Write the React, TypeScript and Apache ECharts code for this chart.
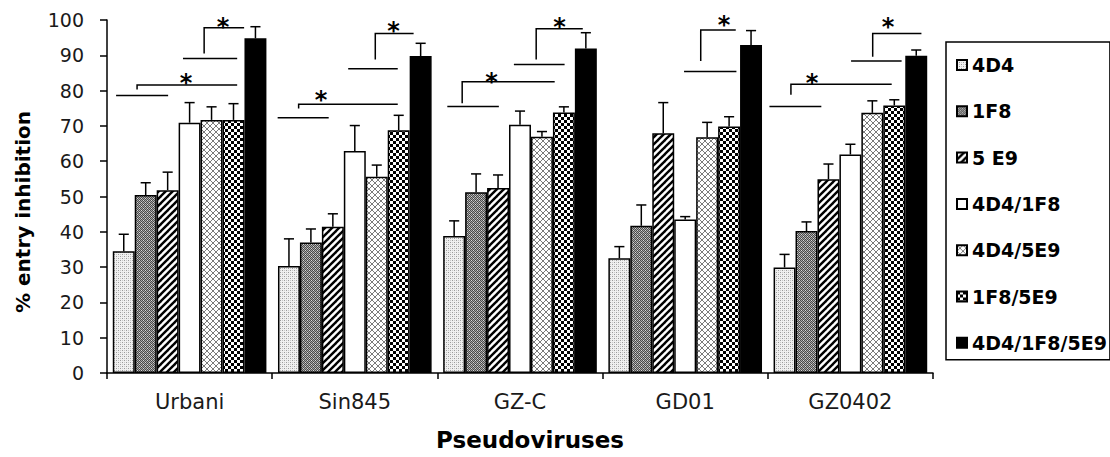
import React, { useEffect, useRef } from "react";
import * as echarts from "echarts";

// ---------- data ----------
const categories = ["Urbani", "Sin845", "GZ-C", "GD01", "GZ0402"];
const seriesNames = ["4D4", "1F8", "5 E9", "4D4/1F8", "4D4/5E9", "1F8/5E9", "4D4/1F8/5E9"];

const val4D4 = [34.5, 30.3, 38.8, 32.5, 29.9];
const val1F8 = [50.4, 37.0, 51.2, 41.7, 40.2];
const val5E9 = [51.8, 41.4, 52.4, 67.9, 54.9];
const val4D4_1F8 = [70.9, 62.9, 70.3, 43.5, 61.9];
const val4D4_5E9 = [71.7, 55.6, 66.9, 66.8, 73.7];
const val1F8_5E9 = [71.7, 68.8, 73.8, 69.8, 75.8];
const valTriple = [94.8, 89.8, 91.9, 92.9, 89.9];

const err4D4 = [4.8, 7.7, 4.3, 3.3, 3.7];
const err1F8 = [3.5, 3.8, 5.2, 5.9, 2.6];
const err5E9 = [5.1, 3.7, 3.7, 8.7, 4.3];
const err4D4_1F8 = [5.7, 7.2, 3.9, 0.8, 2.9];
const err4D4_5E9 = [3.7, 3.3, 1.5, 4.2, 3.4];
const err1F8_5E9 = [4.6, 4.2, 1.6, 2.8, 1.6];
const errTriple = [3.3, 3.6, 4.5, 4.1, 1.6];

const allValues = [val4D4, val1F8, val5E9, val4D4_1F8, val4D4_5E9, val1F8_5E9, valTriple];
const allErrors = [err4D4, err1F8, err5E9, err4D4_1F8, err4D4_5E9, err1F8_5E9, errTriple];

// significance annotations: [category, fromOffset, toOffset, value]
const sigLines = [
  [0, -0.445, -0.13, 78.6],
  [0, -0.04, 0.288, 89.1],
  [1, -0.467, -0.158, 72.3],
  [1, -0.04, 0.26, 86.2],
  [2, -0.44, -0.128, 75.5],
  [2, -0.037, 0.27, 87.4],
  [3, -0.007, 0.31, 85.4],
  [4, -0.49, -0.176, 75.5],
  [4, 0.004, 0.31, 88.4],
];
// [category, fromOffset, toOffset, value, dropToValue]
const sigBrackets = [
  [0, -0.318, 0.288, 81.6, 80.3],
  [0, 0.088, 0.33, 97.8, 90.5],
  [1, -0.34, 0.26, 76.1, 74.9],
  [1, 0.124, 0.356, 96.2, 88.8],
  [2, -0.35, 0.21, 82.5, 76.4],
  [2, 0.098, 0.38, 97.5, 88.8],
  [3, 0.094, 0.306, 97.2, 88.4],
  [4, -0.36, 0.25, 81.8, 78.8],
  [4, 0.135, 0.43, 96.2, 89.6],
];
// [category, offset, value]
const sigStars = [
  [0, -0.021, 84.1],
  [0, 0.203, 100.0],
  [1, -0.205, 79.2],
  [1, 0.235, 98.6],
  [2, -0.173, 84.4],
  [2, 0.239, 100.0],
  [3, 0.235, 100.5],
  [4, -0.232, 84.1],
  [4, 0.228, 99.8],
];

const CAT_GAP = 0.07;

// ---------- patterns ----------
function makePattern(kind: string): any {
  const size = kind === "stripe" ? 7 : kind === "cross" || kind === "checker" ? 6 : 4;
  const c = document.createElement("canvas");
  c.width = size;
  c.height = size;
  const ctx = c.getContext("2d") as CanvasRenderingContext2D;
  const px = (x: number, y: number, col: string) => {
    ctx.fillStyle = col;
    ctx.fillRect(x, y, 1, 1);
  };
  if (kind === "light") {
    ctx.fillStyle = "#f0f0f0";
    ctx.fillRect(0, 0, size, size);
    px(0, 0, "#9a9a9a");
    px(2, 2, "#9a9a9a");
    px(2, 0, "#c8c8c8");
    px(0, 2, "#c8c8c8");
  } else if (kind === "dark") {
    for (let y = 0; y < size; y++)
      for (let x = 0; x < size; x++) px(x, y, (x + y) % 2 === 0 ? "#4a4a4a" : "#a8a8a8");
    px(1, 2, "#d8d8d8");
    px(3, 0, "#d8d8d8");
  } else if (kind === "stripe") {
    ctx.fillStyle = "#fff";
    ctx.fillRect(0, 0, size, size);
    ctx.strokeStyle = "#000";
    ctx.lineWidth = 2.4;
    for (const o of [-7, 0, 7]) {
      ctx.beginPath();
      ctx.moveTo(o - 1, 8);
      ctx.lineTo(o + 8, -1);
      ctx.stroke();
    }
  } else if (kind === "cross") {
    ctx.fillStyle = "#fff";
    ctx.fillRect(0, 0, size, size);
    ctx.strokeStyle = "#7a7a7a";
    ctx.lineWidth = 1;
    for (const o of [-6, 0, 6]) {
      ctx.beginPath();
      ctx.moveTo(o - 1, 7);
      ctx.lineTo(o + 7, -1);
      ctx.stroke();
      ctx.beginPath();
      ctx.moveTo(o - 1, -1);
      ctx.lineTo(o + 7, 7);
      ctx.stroke();
    }
  } else if (kind === "checker") {
    ctx.fillStyle = "#fff";
    ctx.fillRect(0, 0, size, size);
    ctx.fillStyle = "#000";
    ctx.fillRect(0, 0, 3, 3);
    ctx.fillRect(3, 3, 3, 3);
  }
  return { image: c.toDataURL(), imageWidth: size, imageHeight: size, repeat: "repeat" };
}

const FONT = '"DejaVu Sans", sans-serif';

export default function App() {
  const ref = useRef<HTMLDivElement>(null);

  useEffect(() => {
    if (!ref.current) return;
    const chart = echarts.init(ref.current, null, { renderer: "svg" });

    const fills: any[] = [
      makePattern("light"),
      makePattern("dark"),
      makePattern("stripe"),
      "#ffffff",
      makePattern("cross"),
      makePattern("checker"),
      "#000000",
    ];

    const barSeries = seriesNames.map((name, i) => ({
      name,
      type: "bar",
      data: allValues[i],
      barGap: "0%",
      barCategoryGap: CAT_GAP * 100 + "%",
      itemStyle: { color: fills[i], borderColor: "#000", borderWidth: 1.5 },
      z: 2,
    }));

    const errData: number[][] = [];
    allValues.forEach((vals, s) =>
      vals.forEach((v, c) => errData.push([c, s, v, allErrors[s][c]]))
    );

    const bandX = (api: any, cat: number, frac: number) =>
      api.coord([cat, 0])[0] + frac * api.size([1, 0])[0];
    const lineStyle = { stroke: "#000", lineWidth: 1.5 };

    const option: any = {
      animation: false,
      backgroundColor: "#fff",
      grid: { left: 107, top: 20, width: 826, height: 353 },
      legend: {
        orient: "vertical",
        left: 946,
        top: 42,
        data: seriesNames,
        icon: "rect",
        itemWidth: 10,
        itemHeight: 10,
        itemGap: 24.3,
        selectedMode: false,
        padding: [12, 3, 6, 10],
        borderColor: "#000",
        borderWidth: 1.5,
        textStyle: {
          fontFamily: FONT,
          fontWeight: "bold",
          fontSize: 19,
          lineHeight: 22,
          color: "#000",
        },
      },
      xAxis: {
        type: "category",
        data: categories,
        axisLine: { lineStyle: { color: "#000", width: 1.5 } },
        axisTick: { show: true, length: 6, alignWithLabel: false, lineStyle: { color: "#000", width: 1.5 } },
        axisLabel: { fontFamily: FONT, fontSize: 21, color: "#1a1a1a", margin: 18 },
      },
      yAxis: {
        type: "value",
        min: 0,
        max: 100,
        interval: 10,
        splitLine: { show: false },
        axisLine: { show: true, lineStyle: { color: "#000", width: 1.5 } },
        axisTick: { show: true, length: 7, lineStyle: { color: "#000", width: 1.5 } },
        axisLabel: { fontFamily: FONT, fontSize: 19, color: "#1a1a1a", margin: 23 },
      },
      graphic: [
        {
          type: "text",
          x: 23,
          y: 212,
          rotation: Math.PI / 2,
          style: {
            text: "% entry inhibition",
            fontFamily: FONT,
            fontWeight: "bold",
            fontSize: 20,
            fill: "#000",
            textAlign: "center",
            textVerticalAlign: "middle",
          },
        },
        {
          type: "text",
          x: 530,
          y: 440,
          style: {
            text: "Pseudoviruses",
            fontFamily: FONT,
            fontWeight: "bold",
            fontSize: 23,
            fill: "#000",
            textAlign: "center",
            textVerticalAlign: "middle",
          },
        },
      ],
      series: [
        ...barSeries,
        {
          name: "errors",
          type: "custom",
          data: errData,
          encode: { x: 0, y: 2 },
          clip: false,
          z: 3,
          renderItem: (_p: any, api: any) => {
            const cat = api.value(0);
            const s = api.value(1);
            const v = api.value(2);
            const e = api.value(3);
            const band = api.size([1, 0])[0];
            const barW = (band * (1 - CAT_GAP)) / 7;
            const cx = api.coord([cat, 0])[0] - 3.5 * barW + (s + 0.5) * barW;
            const y0 = api.coord([cat, v])[1];
            const y1 = api.coord([cat, v + e])[1];
            const cap = barW * 0.23;
            return {
              type: "group",
              children: [
                { type: "line", shape: { x1: cx, y1: y0, x2: cx, y2: y1 }, style: lineStyle },
                { type: "line", shape: { x1: cx - cap, y1: y1, x2: cx + cap, y2: y1 }, style: lineStyle },
              ],
            };
          },
        },
        {
          name: "lines",
          type: "custom",
          data: sigLines,
          encode: { x: 0, y: 3 },
          clip: false,
          z: 3,
          renderItem: (_p: any, api: any) => {
            const cat = api.value(0);
            const x1 = bandX(api, cat, api.value(1));
            const x2 = bandX(api, cat, api.value(2));
            const y = api.coord([cat, api.value(3)])[1];
            return { type: "line", shape: { x1, y1: y, x2, y2: y }, style: lineStyle };
          },
        },
        {
          name: "brackets",
          type: "custom",
          data: sigBrackets,
          encode: { x: 0, y: 3 },
          clip: false,
          z: 3,
          renderItem: (_p: any, api: any) => {
            const cat = api.value(0);
            const x1 = bandX(api, cat, api.value(1));
            const x2 = bandX(api, cat, api.value(2));
            const y = api.coord([cat, api.value(3)])[1];
            const yd = api.coord([cat, api.value(4)])[1];
            return {
              type: "polyline",
              shape: { points: [[x1, yd], [x1, y], [x2, y]] },
              style: { ...lineStyle, fill: "none" },
            };
          },
        },
        {
          name: "stars",
          type: "custom",
          data: sigStars,
          encode: { x: 0, y: 2 },
          clip: false,
          z: 3,
          renderItem: (_p: any, api: any) => {
            const cat = api.value(0);
            const x = bandX(api, cat, api.value(1));
            const y = api.coord([cat, api.value(2)])[1];
            return {
              type: "text",
              x,
              y: y + 6.5,
              style: {
                text: "*",
                fontFamily: FONT,
                fontWeight: "bold",
                fontSize: 24,
                fill: "#000",
                textAlign: "center",
                textVerticalAlign: "middle",
              },
            };
          },
        },
      ],
    };

    chart.setOption(option);
    return () => chart.dispose();
  }, []);

  return (
    <div
      ref={ref}
      style={{ position: "fixed", left: 0, top: 0, width: 1110, height: 457, background: "#fff" }}
    />
  );
}
